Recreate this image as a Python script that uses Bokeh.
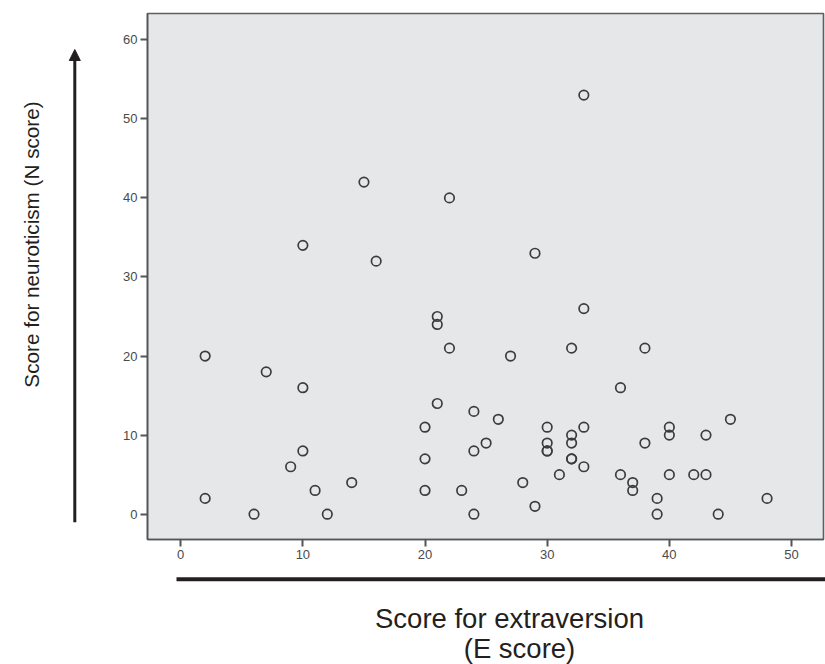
import math
from bokeh.plotting import figure
from bokeh.layouts import column, row
from bokeh.models import Label, Arrow, NormalHead, Range1d, FixedTicker
from bokeh.embed import file_html
from bokeh.resources import INLINE

# ---- data (E score, N score) ----
e_score = [2, 2, 6, 7, 9, 10, 10, 10, 11, 12, 14, 15, 16, 20, 20, 20, 21, 21, 21, 22, 22,
           23, 24, 24, 24, 25, 26, 27, 28, 29, 29, 30, 30, 30, 30, 31, 32, 32, 32, 32, 32,
           33, 33, 33, 33, 36, 36, 37, 37, 38, 38, 39, 39, 40, 40, 40, 42, 43, 43, 44, 45, 48]
n_score = [20, 2, 0, 18, 6, 34, 16, 8, 3, 0, 4, 42, 32, 11, 7, 3, 25, 24, 14, 40, 21,
           3, 13, 8, 0, 9, 12, 20, 4, 1, 33, 11, 9, 8, 8, 5, 21, 10, 9, 7, 7,
           53, 26, 11, 6, 16, 5, 4, 3, 21, 9, 2, 0, 11, 10, 5, 5, 10, 5, 0, 12, 2]
x_ticks = [0, 10, 20, 30, 40, 50]
y_ticks = [0, 10, 20, 30, 40, 50, 60]
x_title = "Score for extraversion"
x_title2 = "(E score)"
y_title = "Score for neuroticism (N score)"

INK = "#231f20"
TOTAL_W, TOTAL_H = 825, 664
LEFT_W = 108
TOP_H = 568
MAIN_W = TOTAL_W - LEFT_W
BOT_H = TOTAL_H - TOP_H
BORDER_TOP, BORDER_BOTTOM = 13, 29

X_LO, X_HI = -2.72, 52.62
Y_LO, Y_HI = -3.2, 63.32


def blank(w, h, top=0, bottom=0):
    f = figure(width=w, height=h, output_backend="svg", toolbar_location=None,
               x_range=Range1d(0, w), y_range=Range1d(h - bottom, top),
               x_axis_location=None, y_axis_location=None,
               min_border_left=0, min_border_right=0,
               min_border_top=top, min_border_bottom=bottom)
    f.outline_line_color = None
    f.background_fill_color = "white"
    f.border_fill_color = "white"
    f.xgrid.visible = False
    f.ygrid.visible = False
    return f


# ---- main scatter plot ----
p = figure(width=MAIN_W, height=TOP_H, output_backend="svg", toolbar_location=None,
           x_range=Range1d(X_LO, X_HI), y_range=Range1d(Y_LO, Y_HI),
           min_border_left=39, min_border_right=2,
           min_border_top=BORDER_TOP, min_border_bottom=BORDER_BOTTOM)
p.background_fill_color = "#e6e7e9"
p.border_fill_color = "white"
p.outline_line_color = "#5e5f61"
p.outline_line_width = 1.6
p.xgrid.visible = False
p.ygrid.visible = False

for ax, ticks in ((p.xaxis[0], x_ticks), (p.yaxis[0], y_ticks)):
    ax.ticker = FixedTicker(ticks=ticks)
    ax.minor_tick_line_color = None
    ax.major_tick_in = 0
    ax.major_tick_out = 7
    ax.major_tick_line_width = 2
    ax.major_tick_line_color = "#555555"
    ax.axis_line_color = "#555555"
    ax.axis_line_width = 1.6
    ax.major_label_text_font = "Liberation Sans"
    ax.major_label_text_font_size = "13px"
    ax.major_label_text_color = "#4a4a4a"
    ax.major_label_standoff = 3

p.scatter(e_score, n_score, marker="circle", size=9.5, fill_color=None,
          line_color="#3c3c3c", line_width=1.7)

# ---- left strip: arrow + y title (page-pixel coordinates) ----
lf = blank(LEFT_W, TOP_H, BORDER_TOP, BORDER_BOTTOM)
lf.add_layout(Arrow(x_start=74.3, y_start=521.7, x_end=74.3, y_end=49,
                    line_width=3, line_color=INK,
                    end=NormalHead(size=11, fill_color=INK, line_color=INK)))
lf.add_layout(Label(x=31, y=244, text=y_title, angle=math.pi / 2,
                    text_align="center", text_baseline="middle",
                    text_font="Liberation Sans", text_font_size="20.7px",
                    text_color=INK))

# ---- bottom strip: bar + x title ----
bf = blank(TOTAL_W, BOT_H)
bf.segment(x0=[176], y0=[10.7], x1=[TOTAL_W], y1=[10.7], line_width=4, line_color=INK)
bf.add_layout(Label(x=509, y=50, text=x_title, text_align="center",
                    text_baseline="alphabetic", text_font="Liberation Sans",
                    text_font_size="27.5px", text_color=INK))
bf.add_layout(Label(x=519, y=80, text=x_title2, text_align="center",
                    text_baseline="alphabetic", text_font="Liberation Sans",
                    text_font_size="27.5px", text_color=INK))

layout = column(row(lf, p, spacing=0), bf, spacing=0)
open("out.html", "w").write(file_html(layout, INLINE))
